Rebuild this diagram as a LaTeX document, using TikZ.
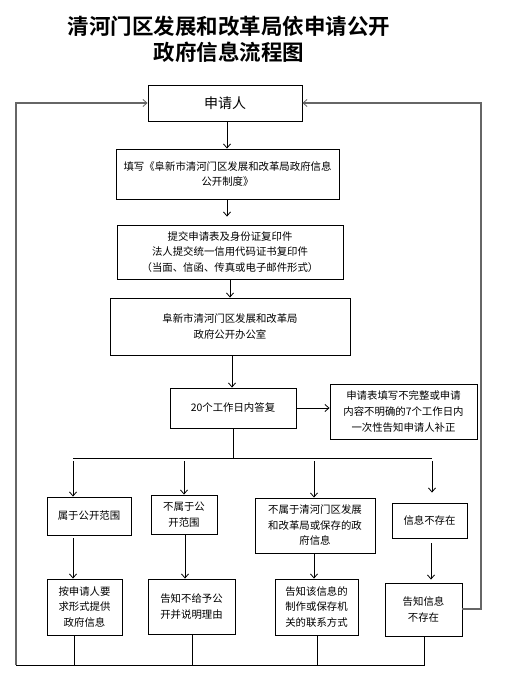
\documentclass[tikz,border=0pt]{standalone}
\usepackage{fontspec}
\setmainfont{Noto Sans CJK SC}
\newfontfamily\titlefont{Noto Sans CJK SC Bold}
\usetikzlibrary{arrows.meta}
\begin{document}
\begin{tikzpicture}[x=1pt,y=-1pt,
  box/.style={draw=black,line width=0.9pt,inner sep=0pt,align=center,
    font=\fontsize{10.4}{15.5}\selectfont},
  arr/.style={draw=black,line width=0.8pt,-{Straight Barb[length=4pt,width=7pt,line width=0.8pt]}},
  ln/.style={draw=black,line width=0.9pt},
  loop/.style={draw=black!60,line width=1.2pt},
  looparr/.style={loop,-{Straight Barb[length=4pt,width=7pt,line width=0.8pt]}}]
\useasboundingbox (0,0) rectangle (505,678);
\fill[white] (0,0) rectangle (505,678);

\node[align=center,font=\titlefont\fontsize{21.5}{26}\selectfont] (title) at (229,39)
  {清河门区发展和改革局依申请公开\\政府信息流程图};

\node[box,minimum width=154pt,minimum height=36pt,font=\fontsize{14}{16}\selectfont] (app) at (225,103) {申请人};
\node[box,minimum width=223pt,minimum height=50pt] (fill) at (227.5,174)
  {填写《阜新市清河门区发展和改革局政府信息\\公开制度》};
\node[box,minimum width=226pt,minimum height=54pt] (submit) at (230,252)
  {提交申请表及身份证复印件\\法人提交统一信用代码证书复印件\\（当面、信函、传真或电子邮件形式）};
\node[box,minimum width=240pt,minimum height=57pt] (office) at (230,326.5)
  {阜新市清河门区发展和改革局\\政府公开办公室};
\node[box,minimum width=126pt,minimum height=40pt] (reply) at (233,408) {20个工作日内答复};
\node[box,minimum width=147pt,minimum height=55pt,font=\fontsize{10.4}{16}\selectfont] (notice) at (403.5,411.5)
  {申请表填写不完整或申请\\内容不明确的7个工作日内\\一次性告知申请人补正};

\node[box,minimum width=84pt,minimum height=38pt] (b1) at (89,516) {属于公开范围};
\node[box,minimum width=66pt,minimum height=39pt] (b2) at (184,514.5) {不属于公\\开范围};
\node[box,minimum width=120pt,minimum height=55pt] (b3) at (315,525.5) {不属于清河门区发展\\和改革局或保存的政\\府信息};
\node[box,minimum width=75pt,minimum height=35pt] (b4) at (429.5,520.5) {信息不存在};

\node[box,minimum width=75pt,minimum height=56pt] (c1) at (84.5,607) {按申请人要\\求形式提供\\政府信息};
\node[box,minimum width=87pt,minimum height=55pt] (c2) at (191.5,606.5) {告知不给予公\\开并说明理由};
\node[box,minimum width=83pt,minimum height=56pt] (c3) at (316.5,607) {告知该信息的\\制作或保存机\\关的联系方式};
\node[box,minimum width=77pt,minimum height=53pt] (c4) at (423.5,609.5) {告知信息\\不存在};

% bus coordinates
\coordinate (t0) at (233,458);
\coordinate (t1) at (73,458);
\coordinate (t2) at (184,458);
\coordinate (t3) at (314,458);
\coordinate (t4) at (432,458);
\coordinate (L) at (16,665);
\coordinate (R) at (481,609);

% main chain
\draw[arr] (app.south -| 227,0) -- (fill.north -| 227,0);
\draw[arr,shorten >=8pt] (fill.south -| 227,0) -- (submit.north -| 227,0);
\draw[arr] (submit.south -| 230,0) -- (office.north -| 230,0);
\draw[arr] (office.south -| 232,0) -- (reply.north -| 232,0);
\draw[arr] (reply.east) -- (notice.west |- reply.east);
\draw[ln] (reply.south -| t0) -- (t0);
\draw[ln] (t1) -- (t4);

% branches
\draw[arr,shorten <=3pt] (t1) -- (t1 |- b1.north);
\draw[arr,shorten <=3pt] (t2) -- (t2 |- b2.north);
\draw[arr,shorten <=3pt] (t3) -- (t3 |- b3.north);
\draw[arr,shorten <=3pt,shorten >=10pt] (t4) -- (t4 |- b4.north);

\draw[arr,shorten <=3pt] (b1.south -| t1) -- (c1.north -| t1);
\draw[arr] (b2.south -| 185,0) -- (c2.north -| 185,0);
\draw[arr] (b3.south -| t3) -- (c3.north -| t3);
\draw[arr,shorten <=5pt,shorten >=3pt] (b4.south -| 431,0) -- (c4.north -| 431,0);

% bottom collector
\draw[ln] (c1.south -| 74,0) -- (74,665);
\draw[ln] (c2.south -| 192,0) -- (192,665);
\draw[ln] (c3.south -| 317,0) -- (317,665);
\draw[ln] (c4.south -| 424,0) -- (424,665) -- (L);

% feedback loops
\draw[looparr] (L) -- (16,103) -- (app.west);
\draw[looparr] (c4.east |- R) -- (R) -- (481,103) -- (app.east);
\end{tikzpicture}
\end{document}
